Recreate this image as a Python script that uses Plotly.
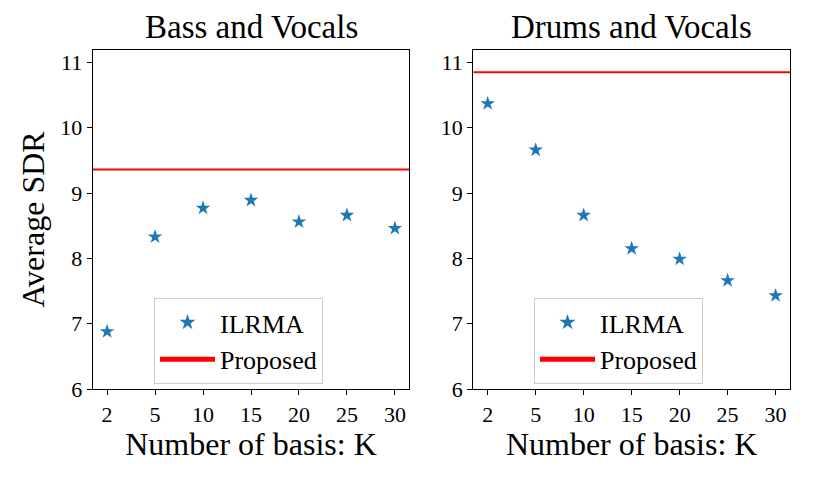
import plotly.graph_objects as go

# ---- data ----
K = [2, 5, 10, 15, 20, 25, 30]
bass_ilrma = [6.88, 8.33, 8.77, 8.89, 8.56, 8.66, 8.46]
bass_proposed = 9.36
drums_ilrma = [10.37, 9.66, 8.66, 8.15, 7.99, 7.66, 7.43]
drums_proposed = 10.85
panel_titles = ["Bass and Vocals", "Drums and Vocals"]
y_ticks = [6, 7, 8, 9, 10, 11]
x_label = "Number of basis: K"
y_label = "Average SDR"

FONT = "Liberation Serif"
W, H = 813, 477
idx = list(range(len(K)))
pad = 0.05 * (len(K) - 1)
x_lo, x_hi = idx[0] - pad, idx[-1] + pad
y_range = [6, 11.19]

blue = "#1f77b4"
red = "#ff0000"

fig = go.Figure()

panels = [
    (bass_ilrma, bass_proposed, "x", "y", "legend"),
    (drums_ilrma, drums_proposed, "x2", "y2", "legend2"),
]
for vals, prop, xa, ya, lg in panels:
    fig.add_trace(go.Scatter(
        x=idx, y=vals, mode="markers", name="ILRMA",
        marker=dict(symbol="star", size=11, color=blue, line=dict(width=0)),
        xaxis=xa, yaxis=ya, legend=lg, cliponaxis=False))
    fig.add_trace(go.Scatter(
        x=[x_lo, x_hi], y=[prop, prop], mode="lines", name="Proposed",
        line=dict(color=red, width=2),
        xaxis=xa, yaxis=ya, legend=lg))

# domains (paper coords from pixel layout)
top_px, bot_px = 50, 389
ydom = [1 - bot_px / H, 1 - top_px / H]
xdom1 = [92.7 / W, 409.3 / W]
xdom2 = [473.3 / W, 790 / W]

axis_common = dict(
    showline=True, linecolor="black", linewidth=1.2, mirror=True,
    ticks="outside", ticklen=5, tickwidth=1.2, tickcolor="black",
    showgrid=False, zeroline=False, automargin=False,
    tickfont=dict(family=FONT, size=22, color="black"),
)

xaxis_common = dict(
    axis_common, range=[x_lo, x_hi], tickmode="array", tickvals=idx,
    ticktext=[str(k) for k in K],
    title=dict(text=x_label, font=dict(family=FONT, size=32, color="black"), standoff=4),
)
yaxis_common = dict(
    axis_common, range=y_range, tickmode="array", tickvals=y_ticks,
    ticktext=[str(t) for t in y_ticks],
)

legend_common = dict(
    bgcolor="rgba(255,255,255,0.8)", bordercolor="#cccccc", borderwidth=1,
    font=dict(family=FONT, size=26, color="black"),
    xanchor="left", yanchor="top", y=1 - 298 / H,
    itemsizing="constant", itemwidth=55, tracegroupgap=0,
)

fig.update_layout(
    width=W, height=H,
    margin=dict(l=0, r=0, t=0, b=0, autoexpand=False),
    paper_bgcolor="white", plot_bgcolor="white",
    font=dict(family=FONT, color="black"),
    xaxis=dict(xaxis_common, domain=xdom1, anchor="y"),
    xaxis2=dict(xaxis_common, domain=xdom2, anchor="y2"),
    yaxis=dict(yaxis_common, domain=ydom, anchor="x",
               title=dict(text=y_label, font=dict(family=FONT, size=32, color="black"), standoff=6)),
    yaxis2=dict(yaxis_common, domain=ydom, anchor="x2"),
    legend=dict(legend_common, x=154 / W),
    legend2=dict(legend_common, x=534 / W),
    annotations=[
        dict(text=panel_titles[0], x=sum(xdom1) / 2, y=ydom[1], xref="paper", yref="paper",
             xanchor="center", yanchor="bottom", yshift=3, showarrow=False,
             font=dict(family=FONT, size=33, color="black")),
        dict(text=panel_titles[1], x=sum(xdom2) / 2, y=ydom[1], xref="paper", yref="paper",
             xanchor="center", yanchor="bottom", yshift=3, showarrow=False,
             font=dict(family=FONT, size=33, color="black")),
    ],
    showlegend=True,
)

fig.write_html("out.html")
